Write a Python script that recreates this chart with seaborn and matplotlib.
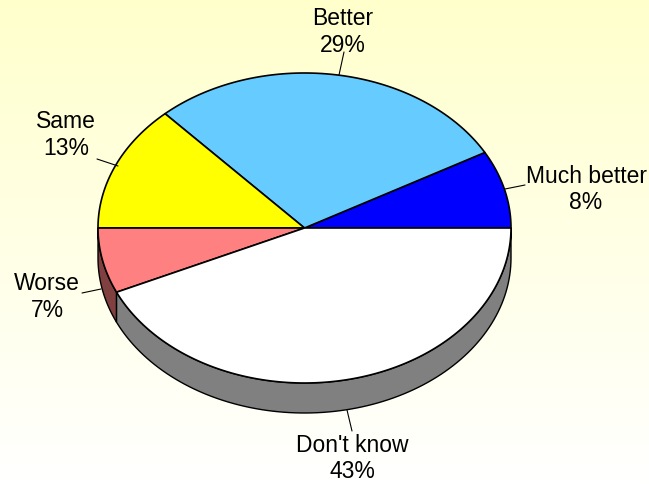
import numpy as np
import matplotlib
matplotlib.use("Agg")
import matplotlib.pyplot as plt
import seaborn as sns

categories = ["Much better", "Better", "Same", "Worse", "Don't know"]
values = [8.1, 28.7, 13.2, 6.8, 43.2]
colors = ["#0000FF", "#66CCFF", "#FFFF00", "#FF8080", "#FFFFFF"]
side_colors = ["#000080", "#336680", "#808000", "#804040", "#808080"]

# label centres and leader lines, in pixels
label_pos = [(586, 189.5), (343, 32), (66, 135), (47, 297), (352, 458.5)]
leaders = [((505, 190), (525, 186)), ((339, 76), (344, 53)), ((118, 167), (97, 160)),
           ((101, 290), (82, 294)), ((347, 411), (352, 432))]

cx, cy, a, b, depth = 304.5, 229, 206.5, 155, 30

sns.set_theme(style="white")
plt.rcParams['font.family'] = ['Liberation Sans', 'DejaVu Sans']

fig = plt.figure(figsize=(6.49, 4.85), dpi=100)
ax = fig.add_axes([0, 0, 1, 1])
ax.set_xlim(0, 649)
ax.set_ylim(485, 0)
ax.axis('off')

# background fade, pale yellow at the top down to white
grad = np.linspace(0, 1, 256).reshape(-1, 1)
cmap = sns.blend_palette(["#FFFFCC", "#FFFFFF"], as_cmap=True)
ax.imshow(grad, extent=(0, 649, 485, 0), aspect='auto', cmap=cmap, zorder=0)

def rim(t):
    return cx + a * np.cos(t), cy - b * np.sin(t)

edges = np.deg2rad(np.concatenate([[0], np.cumsum(values)]) * 3.6)

# side wall, only the front half shows
for i in range(len(values)):
    lo, hi = max(edges[i], np.pi), max(edges[i + 1], np.pi)
    if hi <= lo:
        continue
    t = np.linspace(lo, hi, 100)
    x, y = rim(t)
    ax.fill(np.r_[x, x[::-1]], np.r_[y, y[::-1] + depth], fc=side_colors[i],
            ec='black', lw=1, zorder=2)

# top face
for i in range(len(values)):
    t = np.linspace(edges[i], edges[i + 1], 200)
    x, y = rim(t)
    ax.fill(np.r_[cx, x], np.r_[cy, y], fc=colors[i], ec='black', lw=1.2,
            joinstyle='round', zorder=3)

for i, name in enumerate(categories):
    ax.plot(*zip(*leaders[i]), color='black', lw=0.8, zorder=4)
    ax.text(label_pos[i][0], label_pos[i][1], f"{name}\n{values[i]:.0f}%", ha='center',
            va='center', fontsize=16.5, color='black', linespacing=1.17, zorder=5)

fig.savefig("out.png", dpi=100)
